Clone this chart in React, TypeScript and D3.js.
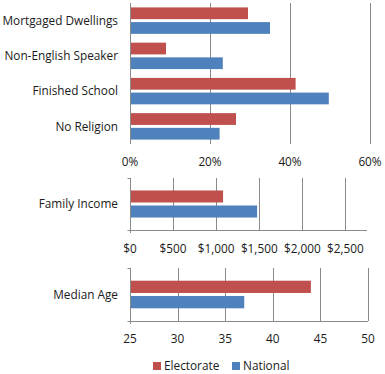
import React, { useEffect, useRef } from 'react';
import * as d3 from 'd3';

// Demographic comparison: electorate vs national
const series = ['Electorate', 'National'];
const colors = ['#C0504D', '#4F81BD'];

const pctCategories = ['Mortgaged Dwellings', 'Non-English Speaker', 'Finished School', 'No Religion'];
const pctElectorate = [0.295, 0.09, 0.414, 0.265];
const pctNational = [0.35, 0.232, 0.497, 0.224];
const pctTicks = [0, 0.2, 0.4, 0.6];

const incomeCategories = ['Family Income'];
const incomeElectorate = [1080];
const incomeNational = [1475];
const incomeTicks = [0, 500, 1000, 1500, 2000, 2500];

const ageCategories = ['Median Age'];
const ageElectorate = [44];
const ageNational = [37];
const ageTicks = [25, 30, 35, 40, 45, 50];

const W = 385;
const H = 374;
const FONT = '"Open Sans", "DejaVu Sans", sans-serif';
const FS = 11.8;
const GRID = '#8a8a8a';

const App: React.FC = () => {
  const svgRef = useRef<SVGSVGElement>(null);

  useEffect(() => {
    if (!svgRef.current) return;
    const svg = d3.select(svgRef.current);
    svg.selectAll('*').remove();

    const panel = (opts: {
      cats: string[];
      vals: number[][];
      domain: [number, number];
      xRange: [number, number];
      yRange: [number, number];
      ticks: number[];
      fmt: (v: number) => string;
      labelY: number;
      padInner: number;
      padOuter: number;
      bottomAxis: boolean;
    }) => {
      const x = d3.scaleLinear().domain(opts.domain).range(opts.xRange);
      const y = d3.scaleBand<string>()
        .domain(opts.cats)
        .range(opts.yRange)
        .paddingInner(opts.padInner)
        .paddingOuter(opts.padOuter);
      const ySub = d3.scaleBand<string>()
        .domain(series)
        .range([0, y.bandwidth()])
        .paddingInner(0.2);

      const g = svg.append('g');

      // gridlines
      g.selectAll('.grid')
        .data(opts.ticks.filter(t => t !== opts.domain[0]))
        .enter()
        .append('line')
        .attr('x1', d => Math.round(x(d)) + 0.5)
        .attr('x2', d => Math.round(x(d)) + 0.5)
        .attr('y1', opts.yRange[0])
        .attr('y2', opts.yRange[1])
        .attr('stroke', GRID)
        .attr('stroke-width', 1);

      // bars
      opts.cats.forEach((c, i) => {
        series.forEach((s, j) => {
          g.append('rect')
            .attr('x', x(opts.domain[0]))
            .attr('y', (y(c) as number) + (ySub(s) as number))
            .attr('width', x(opts.vals[j][i]) - x(opts.domain[0]))
            .attr('height', ySub.bandwidth())
            .attr('fill', colors[j]);
        });
        g.append('text')
          .attr('x', 118)
          .attr('y', (y(c) as number) + y.bandwidth() / 2)
          .attr('dy', '0.35em')
          .attr('text-anchor', 'end')
          .attr('font-family', FONT)
          .attr('font-size', FS)
          .attr('fill', '#1a1a1a')
          .text(c);
      });

      // vertical axis
      const x0 = Math.round(x(opts.domain[0])) + 0.5;
      g.append('line')
        .attr('x1', x0).attr('x2', x0)
        .attr('y1', opts.yRange[0])
        .attr('y2', opts.yRange[1] + (opts.bottomAxis ? 3 : 0))
        .attr('stroke', GRID);
      if (opts.bottomAxis) {
        g.append('line')
          .attr('x1', x0 - 3).attr('x2', x0)
          .attr('y1', opts.yRange[0] + 0.5).attr('y2', opts.yRange[0] + 0.5)
          .attr('stroke', GRID);
        g.append('line')
          .attr('x1', x0 - 3).attr('x2', opts.xRange[1])
          .attr('y1', opts.yRange[1] + 0.5).attr('y2', opts.yRange[1] + 0.5)
          .attr('stroke', GRID);
      }

      // tick labels
      g.selectAll('.tick')
        .data(opts.ticks)
        .enter()
        .append('text')
        .attr('x', d => x(d))
        .attr('y', opts.labelY)
        .attr('text-anchor', 'middle')
        .attr('font-family', FONT)
        .attr('font-size', FS)
        .attr('fill', '#1a1a1a')
        .text(d => opts.fmt(d));
    };

    panel({
      cats: pctCategories,
      vals: [pctElectorate, pctNational],
      domain: [0, 0.6],
      xRange: [130, 370],
      yRange: [3, 144],
      ticks: pctTicks,
      fmt: d3.format('.0%'),
      labelY: 166,
      padInner: 0.25,
      padOuter: 0.125,
      bottomAxis: false,
    });

    panel({
      cats: incomeCategories,
      vals: [incomeElectorate, incomeNational],
      domain: [0, 2750],
      xRange: [130, 367],
      yRange: [178, 230],
      ticks: incomeTicks,
      fmt: v => '$' + d3.format(',')(v),
      labelY: 253,
      padInner: 0,
      padOuter: 0.46,
      bottomAxis: true,
    });

    panel({
      cats: ageCategories,
      vals: [ageElectorate, ageNational],
      domain: [25, 50],
      xRange: [130, 368],
      yRange: [268, 321],
      ticks: ageTicks,
      fmt: v => String(v),
      labelY: 343,
      padInner: 0,
      padOuter: 0.46,
      bottomAxis: true,
    });

    // legend
    const legendX = [153, 232];
    series.forEach((s, i) => {
      svg.append('rect')
        .attr('x', legendX[i])
        .attr('y', 362)
        .attr('width', 8)
        .attr('height', 8)
        .attr('fill', colors[i]);
      svg.append('text')
        .attr('x', legendX[i] + 11)
        .attr('y', 370)
        .attr('font-family', FONT)
        .attr('font-size', FS)
        .attr('fill', '#1a1a1a')
        .text(s);
    });
  }, []);

  return (
    <svg
      ref={svgRef}
      width={W}
      height={H}
      style={{ position: 'absolute', left: 0, top: 0, background: '#fff' }}
    />
  );
};

export default App;
